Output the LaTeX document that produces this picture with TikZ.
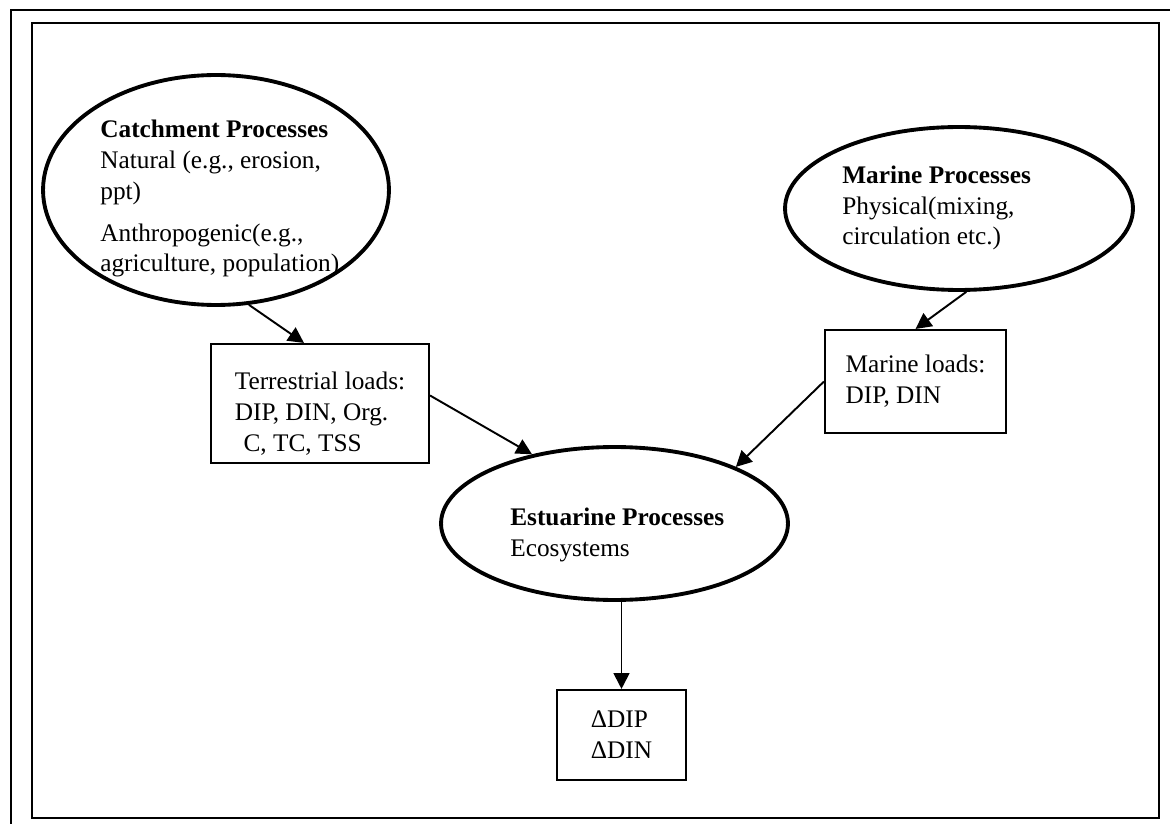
\documentclass[tikz,border=0pt]{standalone}
\usepackage{fontspec}
\setmainfont{Liberation Serif}
\usepackage{tikz}
\usetikzlibrary{shapes.geometric,arrows.meta}

\begin{document}
\begin{tikzpicture}[x=0.02cm,y=-0.02cm,
    proc/.style={draw,ellipse,line width=2.2pt,inner sep=0pt},
    loadbox/.style={draw,rectangle,line width=1.2pt,align=left,inner sep=0pt},
    txt/.style={align=left,inner sep=0pt,anchor=base west},
    flow/.style={line width=1.1pt,-{Triangle[length=9pt,width=9pt]}},
    frame/.style={line width=1.6pt},
    font=\fontsize{14.4}{17.6}\selectfont]

  \useasboundingbox (0,0) rectangle (1170,824);

  % --- frames ---
  \draw[frame] (11,824) -- (11,10) -- (1170,10);
  \draw[frame] (32,23) rectangle (1159,818);

  % --- processes ---
  \node[proc,minimum width=6.92cm,minimum height=4.6cm] (catch) at (216,190) {};
  \node[proc,minimum width=6.96cm,minimum height=3.26cm] (marine) at (959,208.5) {};
  \node[proc,minimum width=6.94cm,minimum height=3.06cm] (estu) at (614.5,523.5) {};

  % anchored on the baseline of the last line
  \node[txt] (catchtxt) at (100,272)
       {\textbf{Catchment Processes}\\Natural (e.g., erosion,\\ppt)\\[6pt]
        Anthropogenic(e.g.,\\agriculture, population)};
  \node[txt] (marinetxt) at (842,245)
       {\textbf{Marine Processes}\\Physical(mixing,\\circulation etc.)};
  \node[txt] (estutxt) at (510,556)
       {\textbf{Estuarine Processes}\\Ecosystems};

  % --- loads ---
  \node[loadbox,minimum width=4.36cm,minimum height=2.38cm] (terr) at (320,403.5)
       {\rule{0pt}{22pt}Terrestrial loads:\\DIP, DIN, Org.\\\hspace*{5pt}C, TC, TSS};
  \node[loadbox,minimum width=3.62cm,minimum height=2.06cm] (mload) at (915.5,381.5)
       {Marine loads:\\DIP, DIN};
  \node[loadbox,minimum width=2.58cm,minimum height=1.8cm] (delta) at (621.5,735)
       {ΔDIP\\ΔDIN};

  % --- flows ---
  \draw[flow] (catch.-74) -- ([xshift=-0.32cm]terr.north);
  \draw[flow] ([yshift=0.16cm]terr.east) -- (estu.140);
  \draw[flow] (marine.-85) -- (mload.north);
  \draw[flow] (mload.west) -- (estu.25);
  \draw[flow] (estu.south -| delta.north) -- (delta.north);

\end{tikzpicture}
\end{document}
